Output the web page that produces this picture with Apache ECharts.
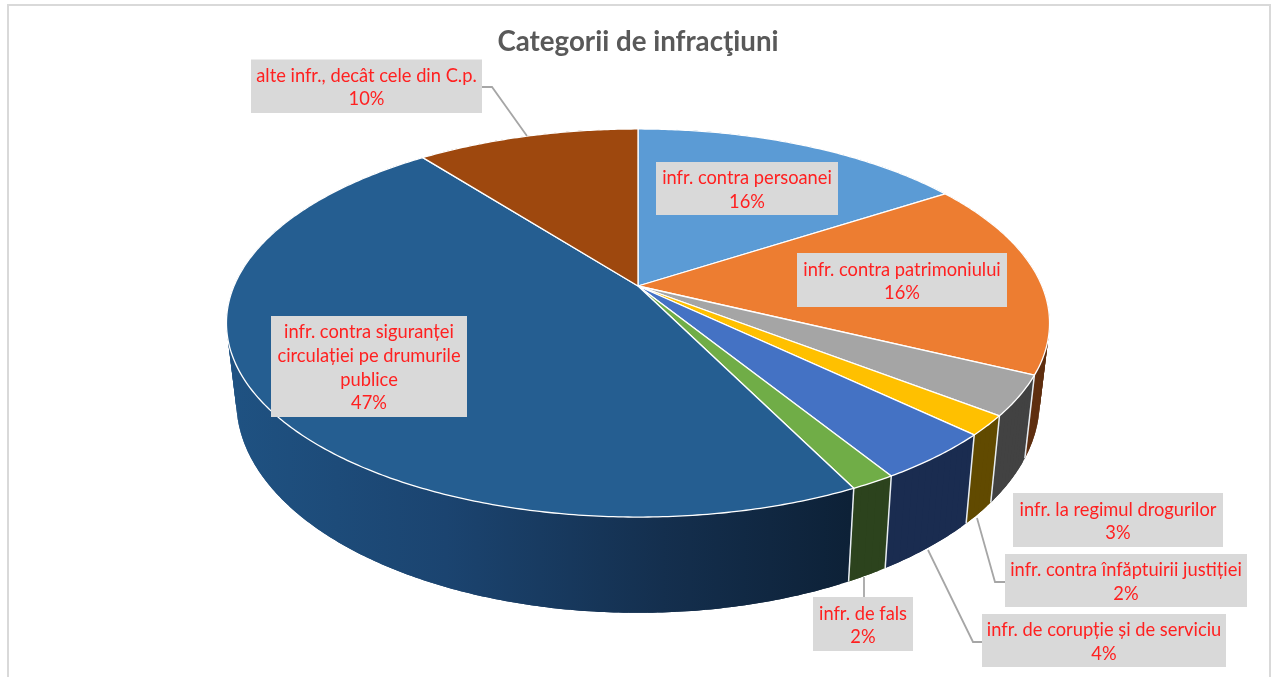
<!DOCTYPE html>
<html>
<head>
<meta charset="utf-8">
<style>html,body{margin:0;padding:0;background:#fff}#c{width:1271px;height:677px}</style>
<script src="https://cdn.jsdelivr.net/npm/echarts@6/dist/echarts.min.js"></script>
</head>
<body>
<div id="c"></div>
<script>
// ---- data ----
const titleText = 'Categorii de infracţiuni';
const categories = [
  'infr. contra persoanei',
  'infr. contra patrimoniului',
  'infr. la regimul drogurilor',
  'infr. contra înfăptuirii justiției',
  'infr. de corupție și de serviciu',
  'infr. de fals',
  'infr. contra siguranței\ncirculației pe drumurile\npublice',
  'alte infr., decât cele din C.p.'
];
const shares = [15.85, 16.35, 3.3, 1.65, 4.05, 1.5, 46.8, 10.5];
const percentLabels = ['16%', '16%', '3%', '2%', '4%', '2%', '47%', '10%'];

// ---- styles ----
const topColors = ['#5b9bd5', '#ed7d31', '#a5a5a5', '#ffc000', '#4472c4', '#70ad47', '#255e91', '#9e480e'];
const wallColors = ['#2f5a80', '#5f2f10', '#424242', '#614a00', '#1a2c50', '#2c431d', null, '#5e2b08'];

// ---- layout ----
const view = { cx: 638, cy: 286, A: 187, B: 404, k: 0.1907, wallCy: 361, wallSx: 0.976, wallSy: 1.09 };
const labelBoxes = [
  [656, 162, 182, 53], [797, 253, 210, 54], [1013, 493, 210, 54], [1005, 554, 242, 53],
  [982, 614, 244, 53], [813, 597, 100, 54], [271, 316, 196, 101], [251, 59.5, 231, 53.5]
];
const leaderPaths = [
  [[482, 87], [492, 87], [527, 136]],
  [[864, 577], [864, 597]],
  [[928, 550], [973, 642], [982, 642]],
  [[977, 518], [995, 582], [1005, 582]]
];

// ---- projection of the tilted disc ----
const total = shares.reduce((a, b) => a + b, 0);
const starts = [];
shares.reduce((acc, s, i) => { starts[i] = acc; return acc + s; }, 0);
function topPt(a) {
  const u = Math.sin(a), v = -Math.cos(a), w = 1 - view.k * v;
  return [view.cx + view.B * u / w, view.cy + view.A * v / w];
}
function lowPt(a) {
  const p = topPt(a);
  return [view.cx + view.wallSx * (p[0] - view.cx), view.wallCy + view.wallSy * (p[1] - view.cy)];
}
function angleOf(pct) { return pct / total * Math.PI * 2; }
function arc(fn, from, to) {
  const n = Math.max(2, Math.ceil((to - from) / 0.01));
  const out = [];
  for (let i = 0; i <= n; i++) out.push(fn(from + (to - from) * i / n));
  return out;
}
const navyWall = new echarts.graphic.LinearGradient(228, 0, 850, 0, [
  { offset: 0, color: '#1f5282' }, { offset: 0.35, color: '#1b4470' },
  { offset: 0.7, color: '#142f4e' }, { offset: 1, color: '#0d2137' }
], true);

const indexData = shares.map((s, i) => [i, s]);
const chart = echarts.init(document.getElementById('c'), null, { renderer: 'canvas' });
chart.setOption({
  animation: false,
  backgroundColor: '#ffffff',
  title: {
    text: titleText, left: 633, top: 23, textAlign: 'center',
    textStyle: { fontFamily: 'Lato', fontWeight: 'bold', fontSize: 27.7, color: '#595959' }
  },
  graphic: [
    { type: 'rect', shape: { x: 8, y: 5, width: 1262, height: 690 }, z: 0, silent: true,
      style: { fill: null, stroke: '#d9d9d9', lineWidth: 2 } },
    ...leaderPaths.map(p => ({
      type: 'polyline', shape: { points: p }, z: 5, silent: true,
      style: { fill: null, stroke: '#a6a6a6', lineWidth: 1.8 }
    }))
  ],
  series: [
    { // outer walls, built from overlapping thin quads so the silhouette stays closed and seamless
      type: 'custom', coordinateSystem: 'none', silent: true, z: 2, data: indexData,
      renderItem(params) {
        const i = params.dataIndex;
        const a0 = angleOf(starts[i]), a1 = angleOf(starts[i] + shares[i]);
        const top = arc(topPt, a0, a1), low = arc(lowPt, a0, a1);
        const fill = wallColors[i] || navyWall;
        const last = top.length - 1;
        const children = [];
        for (let j = 0; j < last; j += 2) {
          const e = Math.min(j + 4, last);
          const pts = top.slice(j, e + 1).concat(low.slice(j, e + 1).reverse());
          children.push({ type: 'polygon', shape: { points: pts }, style: { fill: fill } });
        }
        return { type: 'group', children: children };
      }
    },
    { // white separators on the walls
      type: 'custom', coordinateSystem: 'none', silent: true, z: 3, data: indexData,
      renderItem(params) {
        const a = angleOf(starts[params.dataIndex]);
        return { type: 'line', shape: { x1: topPt(a)[0], y1: topPt(a)[1], x2: lowPt(a)[0], y2: lowPt(a)[1] },
          style: { stroke: '#e8edf2', lineWidth: 1.5 } };
      }
    },
    { // top faces
      type: 'custom', coordinateSystem: 'none', silent: true, z: 4, data: indexData,
      renderItem(params) {
        const i = params.dataIndex;
        const a0 = angleOf(starts[i]), a1 = angleOf(starts[i] + shares[i]);
        const pts = [[view.cx, view.cy]].concat(arc(topPt, a0, a1));
        return { type: 'polygon', shape: { points: pts },
          style: { fill: topColors[i], stroke: '#ffffff', lineWidth: 1.3, lineJoin: 'round' } };
      }
    },
    { // labels
      type: 'custom', coordinateSystem: 'none', silent: true, z: 6, data: indexData,
      renderItem(params) {
        const i = params.dataIndex, b = labelBoxes[i];
        return { type: 'group', children: [
          { type: 'rect', shape: { x: b[0], y: b[1], width: b[2], height: b[3] }, style: { fill: '#d9d9d9' } },
          { type: 'text', x: b[0] + b[2] / 2, y: b[1] + b[3] / 2 + 1.5, style: {
            text: categories[i] + '\n' + percentLabels[i], fill: '#ff2020',
            fontFamily: 'Lato', fontSize: 18.3, lineHeight: 23.7, align: 'center', verticalAlign: 'middle' } }
        ] };
      }
    }
  ]
});
</script>
</body>
</html>
